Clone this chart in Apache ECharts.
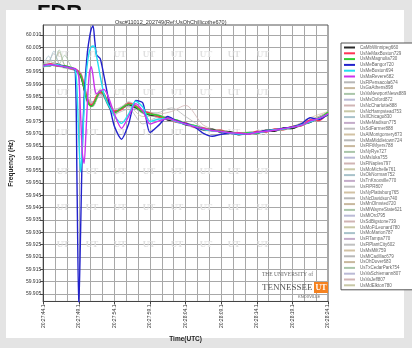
<!DOCTYPE html>
<html><head><meta charset="utf-8">
<script src="https://cdn.jsdelivr.net/npm/echarts@6/dist/echarts.min.js"></script>
<style>html,body{margin:0;padding:0;background:#e4e4e4}#c{width:412px;height:348px}</style>
</head><body><div id="c"></div><script>
// ---- axis labels ----
const xLabels = ['20:27:44.1','20:27:49.1','20:27:54.1','20:27:59.1','20:28:04.1','20:28:09.1','20:28:14.1','20:28:19.1','20:28:24.1'];
const yTicks = [59.905,59.910,59.915,59.920,59.925,59.930,59.935,59.940,59.945,59.950,59.955,59.960,59.965,59.970,59.975,59.980,59.985,59.990,59.995,60.000,60.005,60.010];

// ---- time samples (axis units, one unit per label step) ----
const t = [0,0.2,0.4,0.6,0.8,0.9,0.95,1.0,1.05,1.1,1.15,1.2,1.25,1.3,1.35,1.4,1.45,1.5,1.6,1.7,1.8,1.9,2.0,2.2,2.4,2.6,2.8,3.0,3.25,3.5,3.75,4.0,4.25,4.5,4.75,5.0,5.25,5.5,5.75,6.0,6.25,6.5,6.75,7.0,7.25,7.5,7.75,8.0];
const tg = [0,0.15,0.3,0.45,0.6,0.8,0.95,1.05,1.15,1.25,1.4,1.6,1.8,2.0,2.4,2.8,3.2,3.6,4.0,4.5,5.0,5.5,6.0,6.5,7.0,7.5,8.0];

// ---- highlighted series ----
const mainNames = ['CaMbWinnipeg660','UsNeMaxBoston729','UsMsMagnolia730','UsMeBangor720','UsMeBoston694','UsMaRevere682'];
const sBlack = [59.9978,59.9976,59.9982,59.9970,59.9966,59.9958,59.9952,59.9946,59.9935,59.9912,59.9880,59.9852,59.9830,59.9818,59.9812,59.9818,59.9832,59.9848,59.9872,59.9858,59.9826,59.9796,59.9788,59.9802,59.9818,59.9806,59.9788,59.9776,59.9772,59.9756,59.9752,59.9736,59.9732,59.9716,59.9718,59.9706,59.9708,59.9696,59.9702,59.9701,59.9714,59.9710,59.9724,59.9721,59.9738,59.9746,59.9764,59.9776];
const sRed = [59.9972,59.9984,59.9974,59.9976,59.9962,59.9962,59.9958,59.9952,59.9942,59.9924,59.9896,59.9864,59.9838,59.9822,59.9818,59.9822,59.9838,59.9854,59.9866,59.9864,59.9834,59.9804,59.9792,59.9798,59.9824,59.9814,59.9792,59.9784,59.9768,59.9764,59.9746,59.9744,59.9726,59.9724,59.9712,59.9714,59.9702,59.9704,59.9698,59.9710,59.9706,59.9720,59.9716,59.9730,59.9732,59.9756,59.9754,59.9784];
const sGreen = [59.9980,59.9978,59.9976,59.9976,59.9968,59.9962,59.9954,59.9948,59.9938,59.9916,59.9884,59.9856,59.9832,59.9816,59.9810,59.9816,59.9830,59.9846,59.9874,59.9862,59.9830,59.9800,59.9786,59.9804,59.9820,59.9810,59.9786,59.9780,59.9774,59.9760,59.9756,59.9740,59.9734,59.9720,59.9714,59.9710,59.9704,59.9700,59.9704,59.9702,59.9712,59.9716,59.9718,59.9728,59.9734,59.9750,59.9762,59.9788];
const sBlue = [59.9976,59.9980,59.9978,59.9973,59.9966,59.9960,59.9500,59.8990,59.9300,59.9650,59.9850,59.9960,60.0040,60.0090,60.0125,60.0138,60.0075,60.0020,60.0005,59.9940,59.9865,59.9790,59.9730,59.9678,59.9740,59.9835,59.9825,59.9705,59.9735,59.9770,59.9752,59.9742,59.9728,59.9702,59.9690,59.9698,59.9702,59.9698,59.9700,59.9706,59.9712,59.9716,59.9722,59.9728,59.9740,59.9765,59.9758,59.9780];
const sCyan = [59.9974,59.9979,59.9980,59.9971,59.9965,59.9960,59.9880,59.9680,59.9545,59.9640,59.9810,59.9925,59.9995,60.0035,60.0052,60.0056,60.0050,60.0015,59.9935,59.9865,59.9825,59.9800,59.9772,59.9742,59.9780,59.9832,59.9808,59.9750,59.9760,59.9762,59.9748,59.9738,59.9731,59.9718,59.9712,59.9708,59.9703,59.9699,59.9701,59.9704,59.9709,59.9716,59.9719,59.9726,59.9736,59.9748,59.9763,59.9779];
const sPurple = [59.9977,59.9981,59.9976,59.9972,59.9966,59.9964,59.9955,59.9930,59.9780,59.9620,59.9580,59.9700,59.9850,59.9950,59.9972,59.9935,59.9880,59.9862,59.9872,59.9880,59.9860,59.9822,59.9780,59.9722,59.9770,59.9822,59.9792,59.9740,59.9752,59.9762,59.9751,59.9739,59.9729,59.9721,59.9713,59.9709,59.9704,59.9702,59.9699,59.9706,59.9710,59.9714,59.9721,59.9727,59.9734,59.9752,59.9762,59.9781];

// ---- other stations ----
const greyNames = ['UsFlPensacola674','UsGaAthens898','UsVaNewportNews889','UsMsOxford872','UsNcCharlotte888','UsNcHampstead753','UsIlChicago830','UsMeMadison775','UsSdFarmer888','UsAlMontgomery873','UsMaMiddletown724','UsFlFtMyers788','UsNyRye727','UsMsIuka755','UsFlNaples797','UsMoMichelle761','UsOkNorman752','UsTnKnoxville770','UsFlPR807','UsNyPlattsburg765','UsNcDavidson740','UsMnOlmsted720','UsMiWayneState621','UsMiOrd795','UsSdBigstone739','UsMoFtLeonard780','UsMoMarion787','UsFlTampa770','UsFlPlantCity602','UsMsMilt759','UsMiCadillac679','UsOhDover683','UsTxCedarPark754','UsVaSchiemann807','UsVaJeff807','UsMdElkton780'];
const g01=[59.9978,59.9992,60.0025,59.9985,59.9975,59.9968,59.9958,59.9935,59.9880,59.9840,59.9825,59.9868,59.9832,59.9792,59.9818,59.9788,59.9772,59.9760,59.9742,59.9718,59.9712,59.9702,59.9707,59.9713,59.9728,59.9752,59.9782];
const g02=[59.9972,59.9978,59.9990,60.0030,59.9980,59.9962,59.9950,59.9945,59.9895,59.9830,59.9815,59.9875,59.9826,59.9786,59.9824,59.9795,59.9768,59.9752,59.9738,59.9725,59.9706,59.9698,59.9703,59.9718,59.9722,59.9746,59.9775];
const g03=[59.9980,59.9985,59.9975,59.9982,60.0018,59.9970,59.9960,59.9930,59.9885,59.9838,59.9822,59.9862,59.9838,59.9795,59.9815,59.9785,59.9776,59.9763,59.9745,59.9722,59.9715,59.9703,59.9708,59.9712,59.9730,59.9755,59.9785];
const g04=[59.9970,59.9976,59.9984,59.9976,59.9968,59.9960,59.9952,59.9942,59.9898,59.9845,59.9812,59.9880,59.9820,59.9780,59.9828,59.9790,59.9774,59.9758,59.9736,59.9716,59.9708,59.9696,59.9702,59.9716,59.9726,59.9748,59.9780];
const g05=[59.9977,59.9983,59.9979,59.9975,59.9970,59.9963,59.9957,59.9948,59.9893,59.9832,59.9818,59.9858,59.9835,59.9790,59.9812,59.9792,59.9780,59.9790,59.9815,59.9735,59.9712,59.9701,59.9704,59.9714,59.9724,59.9751,59.9779];
const g06=[59.9982,59.9994,59.9986,59.9980,59.9974,59.9967,59.9953,59.9938,59.9882,59.9828,59.9828,59.9872,59.9842,59.9800,59.9808,59.9770,59.9770,59.9755,59.9742,59.9720,59.9713,59.9705,59.9708,59.9716,59.9728,59.9756,59.9786];
const g07=[59.9973,60.0015,59.9980,59.9977,59.9971,59.9964,59.9954,59.9944,59.9890,59.9836,59.9816,59.9866,59.9830,59.9784,59.9820,59.9786,59.9768,59.9754,59.9740,59.9718,59.9709,59.9699,59.9706,59.9717,59.9723,59.9749,59.9777];
const g08=[59.9976,59.9981,59.9983,59.9972,59.9966,59.9961,59.9959,59.9950,59.9905,59.9850,59.9830,59.9850,59.9845,59.9798,59.9822,59.9782,59.9773,59.9761,59.9739,59.9721,59.9711,59.9700,59.9706,59.9715,59.9727,59.9753,59.9783];
const g09=[59.9979,59.9980,59.9988,59.9980,59.9976,59.9966,59.9951,59.9936,59.9878,59.9822,59.9810,59.9883,59.9818,59.9776,59.9830,59.9796,59.9779,59.9757,59.9735,59.9714,59.9707,59.9697,59.9703,59.9712,59.9721,59.9745,59.9774];
const g10=[59.9974,59.9979,59.9981,59.9979,59.9973,59.9966,59.9956,59.9941,59.9892,59.9837,59.9823,59.9867,59.9828,59.9788,59.9817,59.9789,59.9767,59.9760,59.9741,59.9723,59.9713,59.9702,59.9707,59.9716,59.9726,59.9752,59.9781];
const g11=[59.9978,59.9982,59.9985,59.9977,59.9969,59.9962,59.9953,59.9939,59.9886,59.9833,59.9819,59.9861,59.9824,59.9781,59.9800,59.9740,59.9765,59.9756,59.9738,59.9719,59.9710,59.9701,59.9705,59.9714,59.9725,59.9750,59.9779];
const g12=[59.9975,59.9986,59.9982,59.9979,59.9974,59.9965,59.9956,59.9943,59.9888,59.9834,59.9821,59.9870,59.9831,59.9789,59.9819,59.9791,59.9771,59.9759,59.9742,59.9721,59.9711,59.9702,59.9706,59.9716,59.9726,59.9751,59.9780];
const g13=[59.9971,59.9977,59.9982,60.0040,59.9977,59.9963,59.9955,59.9940,59.9891,59.9838,59.9817,59.9873,59.9829,59.9787,59.9821,59.9787,59.9769,59.9755,59.9743,59.9723,59.9714,59.9704,59.9709,59.9718,59.9729,59.9754,59.9784];
const g14=[59.9977,59.9981,59.9978,59.9974,59.9968,59.9964,59.9958,59.9947,59.9899,59.9842,59.9827,59.9863,59.9836,59.9793,59.9816,59.9788,59.9772,59.9758,59.9741,59.9720,59.9710,59.9700,59.9705,59.9714,59.9724,59.9749,59.9778];
const g15=[59.9980,59.9984,59.9986,59.9980,59.9975,59.9967,59.9954,59.9937,59.9884,59.9829,59.9814,59.9876,59.9827,59.9783,59.9826,59.9793,59.9775,59.9762,59.9745,59.9724,59.9714,59.9703,59.9708,59.9717,59.9730,59.9756,59.9787];
const g16=[59.9973,59.9978,59.9980,59.9976,59.9971,59.9963,59.9957,59.9946,59.9894,59.9841,59.9824,59.9859,59.9833,59.9791,59.9814,59.9785,59.9770,59.9756,59.9737,59.9717,59.9708,59.9698,59.9704,59.9713,59.9722,59.9747,59.9776];
const g17=[59.9976,59.9985,60.0035,59.9983,59.9973,59.9965,59.9955,59.9942,59.9889,59.9835,59.9820,59.9868,59.9834,59.9792,59.9818,59.9790,59.9771,59.9758,59.9740,59.9720,59.9711,59.9701,59.9706,59.9715,59.9725,59.9750,59.9779];
const g18=[59.9979,59.9982,59.9979,59.9977,59.9972,59.9966,59.9957,59.9944,59.9891,59.9836,59.9822,59.9864,59.9829,59.9786,59.9823,59.9791,59.9774,59.9760,59.9742,59.9722,59.9712,59.9701,59.9706,59.9716,59.9727,59.9753,59.9782];
const g19=[59.9974,59.9980,59.9984,59.9981,59.9970,59.9962,59.9952,59.9938,59.9887,59.9839,59.9826,59.9869,59.9837,59.9794,59.9813,59.9784,59.9767,59.9754,59.9736,59.9718,59.9709,59.9699,59.9704,59.9714,59.9723,59.9748,59.9777];
const g20=[59.9977,59.9983,59.9981,59.9975,59.9969,59.9964,59.9955,59.9943,59.9893,59.9838,59.9821,59.9866,59.9832,59.9788,59.9820,59.9788,59.9770,59.9757,59.9739,59.9719,59.9710,59.9700,59.9705,59.9715,59.9724,59.9750,59.9779];
const g21=[59.9975,59.9979,59.9983,59.9978,59.9972,59.9964,59.9954,59.9941,59.9888,59.9834,59.9819,59.9865,59.9830,59.9785,59.9819,59.9792,59.9785,59.9805,59.9770,59.9725,59.9712,59.9702,59.9707,59.9716,59.9726,59.9752,59.9781];
const g22=[59.9978,59.9981,59.9980,59.9976,59.9971,59.9965,59.9956,59.9945,59.9896,59.9840,59.9823,59.9862,59.9835,59.9791,59.9817,59.9787,59.9769,59.9756,59.9738,59.9718,59.9709,59.9699,59.9705,59.9714,59.9724,59.9749,59.9778];
const g23=[59.9972,59.9977,59.9982,59.9979,59.9973,59.9963,59.9953,59.9940,59.9887,59.9833,59.9818,59.9871,59.9827,59.9784,59.9825,59.9794,59.9773,59.9759,59.9743,59.9722,59.9713,59.9703,59.9708,59.9718,59.9728,59.9754,59.9783];
const g24=[59.9976,59.9984,59.9981,59.9978,59.9970,59.9966,59.9958,59.9948,59.9897,59.9843,59.9825,59.9860,59.9839,59.9796,59.9812,59.9783,59.9768,59.9753,59.9737,59.9717,59.9708,59.9698,59.9703,59.9713,59.9722,59.9747,59.9776];
const g25=[59.9979,59.9982,59.9986,59.9981,59.9975,59.9967,59.9952,59.9937,59.9883,59.9831,59.9816,59.9874,59.9826,59.9782,59.9827,59.9795,59.9776,59.9761,59.9744,59.9723,59.9714,59.9704,59.9709,59.9718,59.9729,59.9755,59.9785];
const g26=[59.9975,59.9980,59.9978,59.9976,59.9969,59.9963,59.9956,59.9945,59.9894,59.9839,59.9823,59.9864,59.9833,59.9790,59.9816,59.9786,59.9771,59.9757,59.9740,59.9719,59.9710,59.9700,59.9706,59.9715,59.9725,59.9750,59.9780];
const g27=[59.9973,59.9979,59.9983,59.9977,59.9972,59.9965,59.9955,59.9942,59.9890,59.9836,59.9820,59.9867,59.9831,59.9787,59.9820,59.9789,59.9770,59.9758,59.9741,59.9721,59.9711,59.9701,59.9706,59.9716,59.9726,59.9752,59.9782];
const g28=[59.9977,59.9981,59.9981,59.9978,59.9971,59.9964,59.9954,59.9941,59.9889,59.9835,59.9821,59.9866,59.9830,59.9786,59.9818,59.9788,59.9772,59.9759,59.9741,59.9720,59.9710,59.9701,59.9705,59.9715,59.9727,59.9751,59.9781];
const g29=[59.9980,59.9985,59.9984,59.9979,59.9974,59.9966,59.9957,59.9946,59.9895,59.9841,59.9824,59.9863,59.9836,59.9792,59.9814,59.9786,59.9769,59.9755,59.9739,59.9719,59.9709,59.9699,59.9704,59.9714,59.9724,59.9749,59.9778];
const g30=[59.9974,59.9978,59.9980,59.9975,59.9970,59.9962,59.9954,59.9940,59.9886,59.9832,59.9817,59.9870,59.9828,59.9783,59.9822,59.9791,59.9773,59.9760,59.9743,59.9722,59.9712,59.9702,59.9707,59.9717,59.9728,59.9765,59.9790];
const g31=[59.9976,59.9982,59.9983,59.9977,59.9972,59.9965,59.9955,59.9943,59.9892,59.9837,59.9822,59.9865,59.9833,59.9789,59.9819,59.9789,59.9771,59.9757,59.9740,59.9720,59.9711,59.9700,59.9705,59.9716,59.9725,59.9750,59.9779];
const g32=[59.9978,59.9980,59.9979,59.9976,59.9971,59.9964,59.9956,59.9944,59.9893,59.9838,59.9820,59.9867,59.9832,59.9787,59.9818,59.9787,59.9770,59.9756,59.9739,59.9719,59.9710,59.9700,59.9706,59.9715,59.9725,59.9751,59.9780];
const g33=[59.9973,59.9979,59.9985,59.9980,59.9973,59.9965,59.9953,59.9939,59.9885,59.9830,59.9815,59.9872,59.9825,59.9781,59.9826,59.9793,59.9775,59.9761,59.9744,59.9724,59.9714,59.9704,59.9709,59.9719,59.9729,59.9754,59.9784];
const g34=[59.9977,59.9983,59.9980,59.9978,59.9972,59.9966,59.9957,59.9947,59.9897,59.9842,59.9826,59.9861,59.9838,59.9795,59.9813,59.9784,59.9768,59.9754,59.9737,59.9717,59.9708,59.9698,59.9703,59.9713,59.9723,59.9748,59.9777];
const g35=[59.9975,59.9981,59.9982,59.9977,59.9971,59.9964,59.9955,59.9942,59.9890,59.9836,59.9820,59.9866,59.9831,59.9788,59.9819,59.9789,59.9771,59.9757,59.9740,59.9720,59.9710,59.9701,59.9706,59.9716,59.9726,59.9751,59.9780];
const g36=[59.9979,59.9984,59.9983,59.9979,59.9973,59.9965,59.9954,59.9940,59.9887,59.9833,59.9818,59.9869,59.9829,59.9785,59.9821,59.9790,59.9773,59.9759,59.9742,59.9721,59.9712,59.9702,59.9707,59.9717,59.9727,59.9753,59.9783];
const greyValues=[g01,g02,g03,g04,g05,g06,g07,g08,g09,g10,g11,g12,g13,g14,g15,g16,g17,g18,g19,g20,g21,g22,g23,g24,g25,g26,g27,g28,g29,g30,g31,g32,g33,g34,g35,g36];

// ---- styling ----
const mainValues = [sBlack,sRed,sGreen,sBlue,sCyan,sPurple];
const mainColors = ['#2a2a2a','#ff3355','#33cc33','#2222cc','#22e0f0','#cc33ee'];
const greyColors = ['#b8b8b8','#c8b89e','#aac6aa','#babad6','#d0b4b4','#c8c8a6','#a8c2ca','#c4acca','#c0c0c0','#d2c2a4'];
const FONT = '"Liberation Sans", Arial, sans-serif';

function pairs(ts, vs){ return ts.map((x,i)=>[x, vs[i]]); }

const series = [];
mainNames.forEach((n,i)=>series.push({
  name:n, type:'line', data:pairs(t, mainValues[i]), showSymbol:false, symbol:'none',
  smooth:0.25, z:4, lineStyle:{width:1.4,color:mainColors[i]}, itemStyle:{color:mainColors[i]}
}));
greyNames.forEach((n,i)=>series.push({
  name:n, type:'line', data:pairs(tg, greyValues[i]), showSymbol:false, symbol:'none',
  smooth:0.3, z:3, lineStyle:{width:0.8,color:greyColors[i%greyColors.length]}, itemStyle:{color:greyColors[i%greyColors.length]}
}));

// decorative watermark positions
const wmX=[63,92,120,149,177,206,234,263], wmY=[50,88,128,167,203,240];
const graphics=[
  {type:'text', left:37, top:3, z:-20, style:{text:'FDR', font:'bold 22px "Liberation Sans", Arial', fill:'#111'}},
  {type:'rect', shape:{x:6,y:10,width:398,height:328}, z:-10, style:{fill:'#ffffff'}},
];
wmY.forEach(y=>wmX.forEach(x=>graphics.push({type:'text', x:x, y:y, z:1, style:{text:'UT', font:'bold 9px "Liberation Serif", serif', fill:'#e0e0e0', align:'center'}})));
graphics.push(
  {type:'text', x:262, y:272, z:5, style:{text:'THE UNIVERSITY of', font:'5.5px "Liberation Serif", serif', fill:'#666'}},
  {type:'text', x:262, y:283, z:5, style:{text:'TENNESSEE', font:'9px "Liberation Serif", serif', fill:'#555'}},
  {type:'rect', shape:{x:314,y:282,width:14,height:11}, z:5, style:{fill:'#f58220'}},
  {type:'text', x:321, y:284, z:6, style:{text:'UT', font:'bold 8px "Liberation Serif", serif', fill:'#fff', align:'center'}},
  {type:'text', x:298, y:295, z:5, style:{text:'KNOXVILLE', font:'4px "Liberation Sans", sans-serif', fill:'#666'}}
);

const chart = echarts.init(document.getElementById('c'), null, {renderer:'canvas'});
chart.setOption({
  animation:false,
  backgroundColor:'#e4e4e4',
  title:{text:'Osc#11012_202749(Ref:UsOhChillicothe670)', left:110, top:14, textStyle:{fontSize:5.5, fontWeight:'normal', color:'#333', fontFamily:FONT}},
  legend:{
    orient:'vertical', left:341, top:43, padding:[2,8,2,3], itemGap:0.8,
    itemWidth:11, itemHeight:2, icon:'rect',
    backgroundColor:'#fff', borderColor:'#555', borderWidth:1,
    textStyle:{fontSize:4.5, lineHeight:5, color:'#666', fontFamily:FONT},
    data:mainNames.concat(greyNames)
  },
  grid:{left:41, right:84, top:25, bottom:38, show:true, borderColor:'#555', borderWidth:1, backgroundColor:'transparent'},
  xAxis:{
    type:'value', min:0, max:8, interval:1,
    name:'Time(UTC)', nameLocation:'middle', nameGap:28,
    nameTextStyle:{fontSize:6.5, fontWeight:'bold', color:'#222', fontFamily:FONT},
    axisLine:{lineStyle:{color:'#444'}}, axisTick:{show:true, length:3, lineStyle:{color:'#444'}},
    axisLabel:{rotate:90, fontSize:5, margin:3, color:'#333', fontFamily:FONT, formatter:v=>xLabels[Math.round(v)]},
    splitLine:{show:true, lineStyle:{color:'#a8a8a8', width:1}},
    minorTick:{show:false, splitNumber:3},
    minorSplitLine:{show:true, lineStyle:{color:'#a8a8a8', width:1}}
  },
  yAxis:{
    type:'value', min:59.902, max:60.0141,
    name:'Frequency (Hz)', nameLocation:'middle', nameGap:18,
    nameTextStyle:{fontSize:6.5, fontWeight:'bold', color:'#222', fontFamily:FONT},
    axisLine:{show:true, lineStyle:{color:'#444'}},
    axisTick:{show:true, length:3, lineStyle:{color:'#444'}, customValues:yTicks},
    axisLabel:{fontSize:5, margin:2, color:'#333', fontFamily:FONT, customValues:yTicks, formatter:v=>v.toFixed(3)},
    splitLine:{show:true, lineStyle:{color:'#a8a8a8', width:1}}
  },
  graphic:graphics,
  series:series
});
</script></body></html>
